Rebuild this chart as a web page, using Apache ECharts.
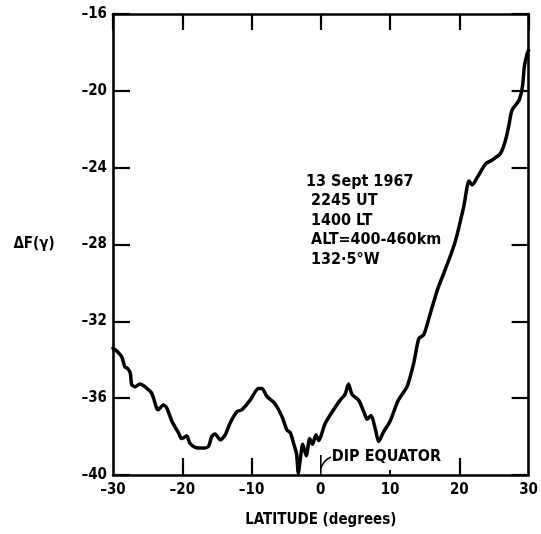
<!DOCTYPE html>
<html>
<head>
<meta charset="utf-8">
<script src="https://cdn.jsdelivr.net/npm/echarts@6/dist/echarts.min.js"></script>
<style>
  html, body { margin: 0; padding: 0; background: #fff; }
  #chart { width: 541px; height: 534px; }
</style>
</head>
<body>
<div id="chart"></div>
<script>
// Total-field anomaly profile across the dip equator
const latitude = [
  -30, -29.6, -28.75, -28.3, -27.9, -27.5, -27.3, -26.8, -26.1, -25.4,
  -24.4, -23.5, -22.7, -22.25, -21.5, -20.55, -20.1, -19.35, -18.9, -18.15,
  -16.95, -16.2, -15.75, -15.27, -14.5, -13.8, -13.1, -12.1, -11.4, -10.2,
  -9.0, -8.5, -7.8, -6.6, -5.6, -4.9, -4.4, -3.93, -3.5, -3.25,
  -3.0, -2.6, -2.1, -1.6, -1.2, -0.7, -0.3, 0.0, 0.65, 1.85,
  2.8, 3.5, 4.0, 4.5, 5.45, 6.2, 6.7, 7.25, 7.9, 8.35,
  9.08, 10.0, 11.2, 12.45, 13.4, 14.15, 14.86, 15.8, 16.8, 17.75,
  18.7, 19.45, 20.65, 21.4, 21.85, 22.6, 23.8, 24.75, 25.95, 26.67,
  27.15, 27.6, 28.6, 29.1, 29.4, 29.8, 30
];
const deltaF = [
  -33.4, -33.5, -33.84, -34.36, -34.45, -34.7, -35.3, -35.4, -35.26, -35.4,
  -35.75, -36.6, -36.35, -36.5, -37.2, -37.8, -38.1, -37.97, -38.35, -38.56,
  -38.6, -38.5, -38.0, -37.86, -38.17, -37.9, -37.3, -36.7, -36.6, -36.1,
  -35.5, -35.5, -35.9, -36.3, -36.96, -37.65, -37.8, -38.35, -38.9, -39.9,
  -39.3, -38.4, -39.0, -38.1, -38.4, -37.9, -38.2, -38.0, -37.3, -36.6,
  -36.1, -35.8, -35.26, -35.8, -36.1, -36.7, -37.1, -36.9, -37.65, -38.26,
  -37.74, -37.2, -36.1, -35.4, -34.2, -32.9, -32.7, -31.6, -30.4, -29.5,
  -28.6, -27.8, -26.0, -24.7, -24.9, -24.5, -23.8, -23.6, -23.25, -22.56,
  -21.8, -21.0, -20.5, -19.8, -18.7, -18.05, -17.9
];
const xTicks = [-30, -20, -10, 0, 10, 20, 30];
const yTicks = [-40, -36, -32, -28, -24, -20, -16];
const longBottomTicks = [-20, -10, 20];
const shortBottomTicks = [10];
const infoLines = ['13 Sept 1967', ' 2245 UT', ' 1400 LT', ' ALT=400-460km', ' 132\u00b75\u00b0W'];
const dipEquatorLat = 0;
const yTitleLevel = -28;

const FONT = '"DejaVu Sans Condensed", "DejaVu Sans", sans-serif';
const INK = '#000';

const chart = echarts.init(document.getElementById('chart'));

const hiddenAxisBase = {
  type: 'value', min: -30, max: 30, interval: 10,
  splitLine: { show: false }, axisLabel: { show: false }
};

chart.setOption({
  animation: false,
  backgroundColor: '#fff',
  grid: { left: 113, right: 12, top: 14, bottom: 59, containLabel: false },
  xAxis: [
    {
      type: 'value', min: -30, max: 30, interval: 10, position: 'bottom',
      axisLine: { show: true, onZero: false, lineStyle: { color: INK, width: 2.6 } },
      axisTick: { show: true, inside: true, length: 17, customValues: longBottomTicks,
                  lineStyle: { color: INK, width: 2.2 } },
      axisLabel: { show: true, customValues: xTicks, margin: 8, color: INK,
                   fontFamily: FONT, fontWeight: 'bold', fontSize: 15,
                   formatter: v => (v < 0 ? '\u2013' + Math.abs(v) : String(v)) },
      splitLine: { show: false },
      name: 'LATITUDE (degrees)', nameLocation: 'middle', nameGap: 38,
      nameTextStyle: { color: INK, fontFamily: FONT, fontWeight: 'bold', fontSize: 15 }
    },
    Object.assign({}, hiddenAxisBase, {
      position: 'top',
      axisLine: { show: true, onZero: false, lineStyle: { color: INK, width: 2.6 } },
      axisTick: { show: true, inside: true, length: 16, lineStyle: { color: INK, width: 2.2 } }
    }),
    Object.assign({}, hiddenAxisBase, {
      position: 'bottom',
      axisLine: { show: false },
      axisTick: { show: true, inside: true, length: 5, customValues: shortBottomTicks,
                  lineStyle: { color: INK, width: 2 } }
    })
  ],
  yAxis: [
    {
      type: 'value', min: -40, max: -16, interval: 4, position: 'left',
      axisLine: { show: true, onZero: false, lineStyle: { color: INK, width: 2.6 } },
      axisTick: { show: true, inside: true, length: 17, lineStyle: { color: INK, width: 2.2 } },
      axisLabel: { show: true, customValues: yTicks, margin: 6, color: INK,
                   fontFamily: FONT, fontWeight: 'bold', fontSize: 15,
                   formatter: v => '\u2013' + Math.abs(v) },
      splitLine: { show: false }
    },
    {
      type: 'value', min: -40, max: -16, interval: 4, position: 'right',
      axisLine: { show: true, onZero: false, lineStyle: { color: INK, width: 2.6 } },
      axisTick: { show: true, inside: true, length: 17, lineStyle: { color: INK, width: 2.2 } },
      axisLabel: { show: false },
      splitLine: { show: false }
    }
  ],
  series: [{
    type: 'line',
    xAxisIndex: 0, yAxisIndex: 0,
    data: latitude.map((x, i) => [x, deltaF[i]]),
    showSymbol: false,
    smooth: 0.25,
    lineStyle: { color: INK, width: 3.5, cap: 'round', join: 'round' }
  }]
});

// Dip-equator marker, axis title and the pass information block
const base = chart.convertToPixel({ xAxisIndex: 0, yAxisIndex: 0 }, [dipEquatorLat, -40]);
const titleY = chart.convertToPixel({ yAxisIndex: 0 }, yTitleLevel);
chart.setOption({
  graphic: [
    {
      type: 'line', silent: true,
      shape: { x1: base[0], y1: base[1], x2: base[0], y2: base[1] - 20 },
      style: { stroke: INK, lineWidth: 1.6 }
    },
    {
      type: 'bezierCurve', silent: true,
      shape: { x1: base[0], y1: base[1] - 6, cpx1: base[0] + 2, cpy1: base[1] - 14,
               x2: base[0] + 10, y2: base[1] - 18 },
      style: { stroke: INK, lineWidth: 1.6, fill: null }
    },
    {
      type: 'text', silent: true,
      x: base[0] + 11, y: base[1] - 18,
      style: { text: 'DIP EQUATOR', fill: INK, font: 'bold 16px ' + FONT,
               textVerticalAlign: 'middle' }
    },
    {
      type: 'text', silent: true,
      x: 34, y: titleY,
      style: { text: '\u0394F(\u03b3)', fill: INK, font: 'bold 15px ' + FONT,
               textAlign: 'center', textVerticalAlign: 'middle' }
    },
    {
      type: 'text', silent: true,
      x: 306, y: 172,
      style: { text: infoLines.join('\n'), fill: INK, font: 'bold 16px ' + FONT,
               lineHeight: 19.5 }
    }
  ]
});
</script>
</body>
</html>
